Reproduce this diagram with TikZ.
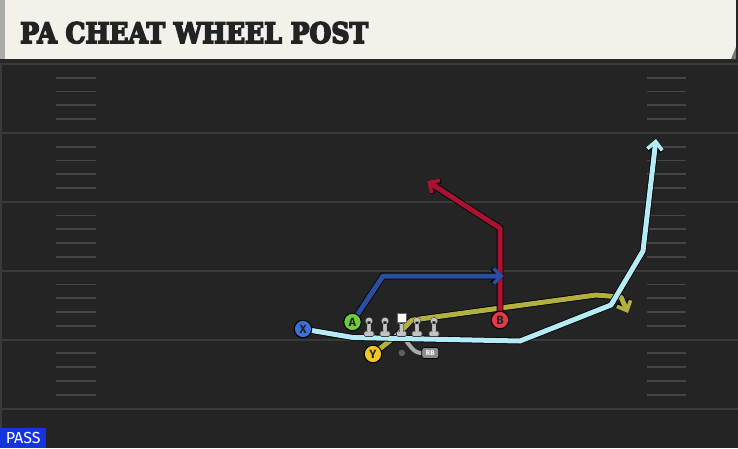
\documentclass[tikz,border=0pt]{standalone}
\usepackage{fontspec}
\usepackage{graphicx}
\newfontfamily\titlefont{DejaVu Serif}[BoldFeatures={FakeBold=6}]
\newfontfamily\labelfont{Fira Sans}
\usetikzlibrary{arrows.meta, positioning}

\definecolor{fieldbg}{HTML}{242424}
\definecolor{yardline}{HTML}{3A3A3A}
\definecolor{hashline}{HTML}{454545}
\definecolor{headerbg}{HTML}{F4F1EA}
\definecolor{headerbar}{HTML}{ABABAB}
\definecolor{titleink}{HTML}{232323}
\definecolor{passblue}{HTML}{1434E0}
\definecolor{xblue}{HTML}{3D6FD8}
\definecolor{agreen}{HTML}{6DCC3C}
\definecolor{yyellow}{HTML}{F2C724}
\definecolor{bred}{HTML}{E23A48}
\definecolor{xroute}{HTML}{B4EBF7}
\definecolor{aroute}{HTML}{2B4E9F}
\definecolor{broute}{HTML}{AA1232}
\definecolor{yroute}{HTML}{B3B042}
\definecolor{linegray}{HTML}{C2C2C2}
\definecolor{rbgray}{HTML}{A8A8A8}
\definecolor{rbbox}{HTML}{8C8C8C}
\definecolor{qbgray}{HTML}{5E5E5E}

\pgfdeclarelayer{field}
\pgfdeclarelayer{routes}
\pgfsetlayers{field,routes,main}

\tikzset{
  player/.style={circle, draw=black, line width=1pt, minimum size=17.5pt, inner sep=0,
    text=titleink, font=\labelfont\bfseries\fontsize{12}{12}\selectfont},
  route/.style={line width=5pt, line join=round, line cap=round,
    preaction={draw=black, line width=6.6pt,
      -{Straight Barb[length=8pt, width=15pt, line width=5pt]}},
    -{Straight Barb[length=8pt, width=15pt, line width=3.6pt]}},
  rbpath/.style={rbgray, line width=4pt, line cap=round},
  backbox/.style={fill=rbbox, draw=black, line width=0.7pt, rounded corners=2.5pt,
    minimum width=17pt, minimum height=11pt, inner sep=0,
    text=white, font=\labelfont\bfseries\fontsize{7}{7}\selectfont},
  yard/.style={yardline, line width=2pt},
  hash/.style={hashline, line width=1.8pt},
  lineman/.pic={
    \filldraw[linegray, draw=black!75, line width=0.6pt, rounded corners=1.5pt]
      (-5,10) rectangle (5,15.5);
    \filldraw[linegray, draw=black!75, line width=0.6pt]
      (-1.9,0) rectangle (1.9,10.5) (0,0) circle (3.6);
    \fill[linegray] (-1.6,0) rectangle (1.6,11) (0,0) circle (3.3);
  },
}

\begin{document}
\begin{tikzpicture}[x=1pt, y=-1pt]
\useasboundingbox (0,0) rectangle (738,448);

\begin{pgfonlayer}{field}
% Field and header
\fill[fieldbg] (0,0) rectangle (738,448);
\fill[yardline] (0,63) rectangle (2,448);
\foreach \i in {0,...,5}
  \draw[yard] (2,{64+68.9*\i}) -- (738,{64+68.9*\i});
\foreach \i in {0,...,4}
  \foreach \k in {1,...,4}
    \draw[hash] (56,{64+68.9*\i+13.78*\k}) -- (96,{64+68.9*\i+13.78*\k})
                (647,{64+68.9*\i+13.78*\k}) -- (686,{64+68.9*\i+13.78*\k});
\fill[black!85] (0,58) rectangle (738,63);
\fill[headerbg] (0,0) rectangle (736,59);
\fill[headerbar] (0,0) rectangle (5,59);
\fill[headerbar!70!black] (736,47) -- (736,59) -- (731,59) -- cycle;
\end{pgfonlayer}

% Line
\foreach \x in {369,385,401.5,417,434}
  \pic at (\x,321) {lineman};

% Define nodes
\path
(20,43) node[anchor=base west, inner sep=0, text=titleink] (title)
  {\resizebox{348pt}{21pt}{\titlefont\bfseries PA CHEAT WHEEL POST}}
(0,448) node[anchor=south west, fill=passblue, text=white, inner sep=0,
  minimum width=46pt, minimum height=20pt,
  font=\labelfont\fontsize{16}{16}\selectfont] (pass) {PASS}
(401.3,317.3) node[fill=white, draw=black!60, line width=0.4pt,
  minimum size=9pt, inner sep=0] (C) {}
(C) +(0.2,17.5) coordinate (snap)
(C) +(0.5,35.7) node[circle, fill=qbgray, minimum size=6.5pt, inner sep=0] (QB) {}
(C) +(29,35.7) node[backbox] (RB) {RB}
(303,329) node[player, fill=xblue] (X) {X}
(352.5,322) node[player, fill=agreen] (A) {A}
(373,354) node[player, fill=yyellow] (Y) {Y}
(500,320) node[player, fill=bred] (B) {B}
;

\begin{pgfonlayer}{routes}
\draw[rbpath] (snap) .. controls (410,345) and (413,353) .. (RB.west);
\draw[route, yroute] (Y.center) -- (396,336) -- (408,324)
  .. controls (411,320) .. (420,319) -- (596,295) -- (621,297) -- (628,313);
\draw[route, xroute] (X.center) -- (353,337.5) -- (520,341) -- (611,305)
  -- (643,251) -- (656,139);
\draw[route, broute] (B.center) -- (500,228) -- (492,223) -- (427,181);
\draw[route, aroute] (A.center) -- (383,276) -- (504,276);
\end{pgfonlayer}

\end{tikzpicture}
\end{document}
